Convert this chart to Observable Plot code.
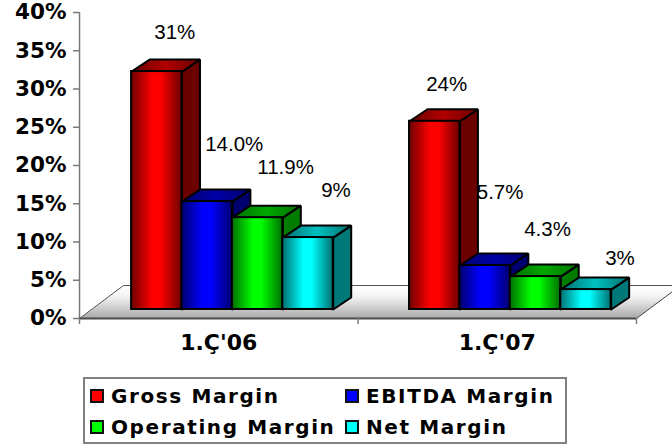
<!DOCTYPE html>
<html><head><meta charset="utf-8">
<script src="https://cdn.jsdelivr.net/npm/d3@7"></script>
<script src="https://cdn.jsdelivr.net/npm/@observablehq/plot@0.6"></script>
<style>
html,body{margin:0;padding:0;background:#fff;overflow:hidden}
#chart{position:absolute;left:0;top:0;width:672px}
#legend{position:absolute;left:83px;top:377px;width:480px;height:63px;border:2px solid #808080;
 font:bold 20px "DejaVu Sans",sans-serif;letter-spacing:1.6px;color:#000;box-sizing:content-box}
.item{position:absolute;height:32px;line-height:32px;white-space:nowrap}
.sw{position:absolute;left:0;top:9px;width:10px;height:10px;border:2px solid #111}
.lab{position:absolute;left:21px;top:0}
</style></head><body>
<div id="chart"></div><div id="legend"></div>
<script>
const categories = ["1.Ç'06", "1.Ç'07"];
const seriesNames = ["Gross Margin", "EBITDA Margin", "Operating Margin", "Net Margin"];
const gross = [31.1, 24.6];
const ebitda = [14.1, 5.75];
const operating = [12.0, 4.3];
const net = [9.4, 2.6];
const labelsQ1 = ["31%", "14.0%", "11.9%", "9%"];
const labelsQ2 = ["24%", "5.7%", "4.3%", "3%"];

const valuesBySeries = [gross, ebitda, operating, net];
const labelsByCat = [labelsQ1, labelsQ2];
const colours = [
  {id:"r", bright:"#ff0000", edge:"#6e0000", top:"#b00000", side:"#6b0000"},
  {id:"b", bright:"#0000ff", edge:"#000070", top:"#0000a8", side:"#00006e"},
  {id:"g", bright:"#00ff00", edge:"#007000", top:"#00a800", side:"#007c00"},
  {id:"c", bright:"#00ffff", edge:"#007070", top:"#00c0c0", side:"#007878"}
];
const labelOffsets = [
  [[18,-39],[27,-57],[28,-50],[28,-47]],
  [[12,-37],[15,-73],[12,-47],[34,-31]]
];
const barStart = [0.187, 1.185], barW = 0.181;
const depthX = 0.0646, depthY = 1.57, lift = 1.18;
const floorX = 0.158, floorY = 4.31;

const ns = "http://www.w3.org/2000/svg";
function defs() {
  const d = document.createElementNS(ns, "defs");
  const add = (id, stops, vertical) => {
    const g = document.createElementNS(ns, "linearGradient");
    g.setAttribute("id", id);
    g.setAttribute("x1", 0); g.setAttribute("y1", 0);
    g.setAttribute("x2", vertical ? 0 : 1); g.setAttribute("y2", vertical ? 1 : 0);
    stops.forEach(([o, c]) => {
      const s = document.createElementNS(ns, "stop");
      s.setAttribute("offset", o); s.setAttribute("stop-color", c);
      g.appendChild(s);
    });
    d.appendChild(g);
  };
  colours.forEach(c => {
    add("front-" + c.id, [[0, c.edge], [0.42, c.bright], [0.58, c.bright], [1, c.edge]]);
    add("top-" + c.id, [[0, c.edge], [0.5, c.top], [1, c.edge]]);
  });
  add("floor", [[0, "#ffffff"], [0.35, "#f2f2f2"], [1, "#a8a8a8"]], true);
  return d;
}

const face = (pts, fill, extra = {}) => Plot.line(pts, {x: "0", y: "1", fill, stroke: "#000", strokeWidth: 2, strokeLinejoin: "miter", curve: "linear", ...extra});

const barMarks = [];
categories.forEach((cat, i) => {
  seriesNames.forEach((name, j) => {
    const c = colours[j];
    const x0 = barStart[i] + j * barW, x1 = x0 + barW;
    const y0 = lift, y1 = lift + valuesBySeries[j][i];
    barMarks.push(
      face([[x1,y0],[x1+depthX,y0+depthY],[x1+depthX,y1+depthY],[x1,y1],[x1,y0]], c.side),
      face([[x0,y1],[x0+depthX,y1+depthY],[x1+depthX,y1+depthY],[x1,y1],[x0,y1]], `url(#top-${c.id})`),
      Plot.rect([{x0, x1, y0, y1}], {x1: "x0", x2: "x1", y1: "y0", y2: "y1", fill: `url(#front-${c.id})`, stroke: "#000", strokeWidth: 2})
    );
  });
});

const labelRows = categories.flatMap((cat, i) => seriesNames.map((n, j) => ({
  x: barStart[i] + (j + 0.5) * barW,
  y: lift + valuesBySeries[j][i],
  t: labelsByCat[i][j],
  dx: labelOffsets[i][j][0], dy: labelOffsets[i][j][1]
})));

const plot = Plot.plot({
  width: 672, height: 370,
  marginLeft: 79, marginRight: 36, marginTop: 12, marginBottom: 52,
  x: {type: "linear", domain: [0, 2], axis: null},
  y: {type: "linear", domain: [0, 40], axis: null},
  style: {background: "transparent", overflow: "hidden"},
  marks: [
    defs,
    Plot.line([[0,0],[floorX,floorY],[2+floorX,floorY],[2,0],[0,0]], {x:"0", y:"1", fill:"url(#floor)", stroke:"none"}),
    Plot.line([[0,0],[floorX,floorY],[2+floorX,floorY]], {x:"0", y:"1", stroke:"#555", strokeWidth:1}),
    Plot.line([[2,0],[2+floorX,floorY]], {x:"0", y:"1", stroke:"#444", strokeWidth:1}),
    Plot.ruleX([0], {y1:0, y2:40, stroke:"#7a7a7a", strokeWidth:1.5}),
    Plot.ruleY([0], {x1:0, x2:2, stroke:"#4a4a4a", strokeWidth:2}),
    Plot.axisX({ticks:[0,1,2], tickFormat:()=>"", tickSize:6, stroke:"#7a7a7a", strokeWidth:1.5, anchor:"bottom"}),
    Plot.axisX({ticks:[0.5,1.5], tickFormat:d=>categories[Math.floor(d)], tickSize:0, tickPadding:16,
      fontSize:22, fontWeight:"bold", fontFamily:"DejaVu Sans", fill:"#000", letterSpacing:"1.6px", anchor:"bottom"}),
    Plot.axisY({ticks:d3.range(0,41,5), tickFormat:d=>d+"%", tickSize:6, tickPadding:7, stroke:"#7a7a7a", strokeWidth:1.5,
      fontSize:21.5, fontWeight:"bold", fontFamily:"DejaVu Sans", fill:"#000", letterSpacing:"1.6px", anchor:"left"}),
    ...barMarks,
    ...labelRows.map(r => Plot.text([r], {x:"x", y:"y", text:"t", dx:r.dx, dy:r.dy, fontSize:20.5,
      fontFamily:"Liberation Sans", fill:"#000"}))
  ]
});
document.getElementById("chart").appendChild(plot);

const legend = document.getElementById("legend");
const pos = [[5,1],[260,1],[5,32],[260,32]];
seriesNames.forEach((n, j) => {
  const it = document.createElement("div");
  it.className = "item";
  it.style.left = pos[j][0] + "px"; it.style.top = pos[j][1] + "px";
  const sw = document.createElement("span"); sw.className = "sw"; sw.style.background = colours[j].bright;
  const la = document.createElement("span"); la.className = "lab"; la.textContent = n;
  it.append(sw, la); legend.appendChild(it);
});
</script>
</body></html>
